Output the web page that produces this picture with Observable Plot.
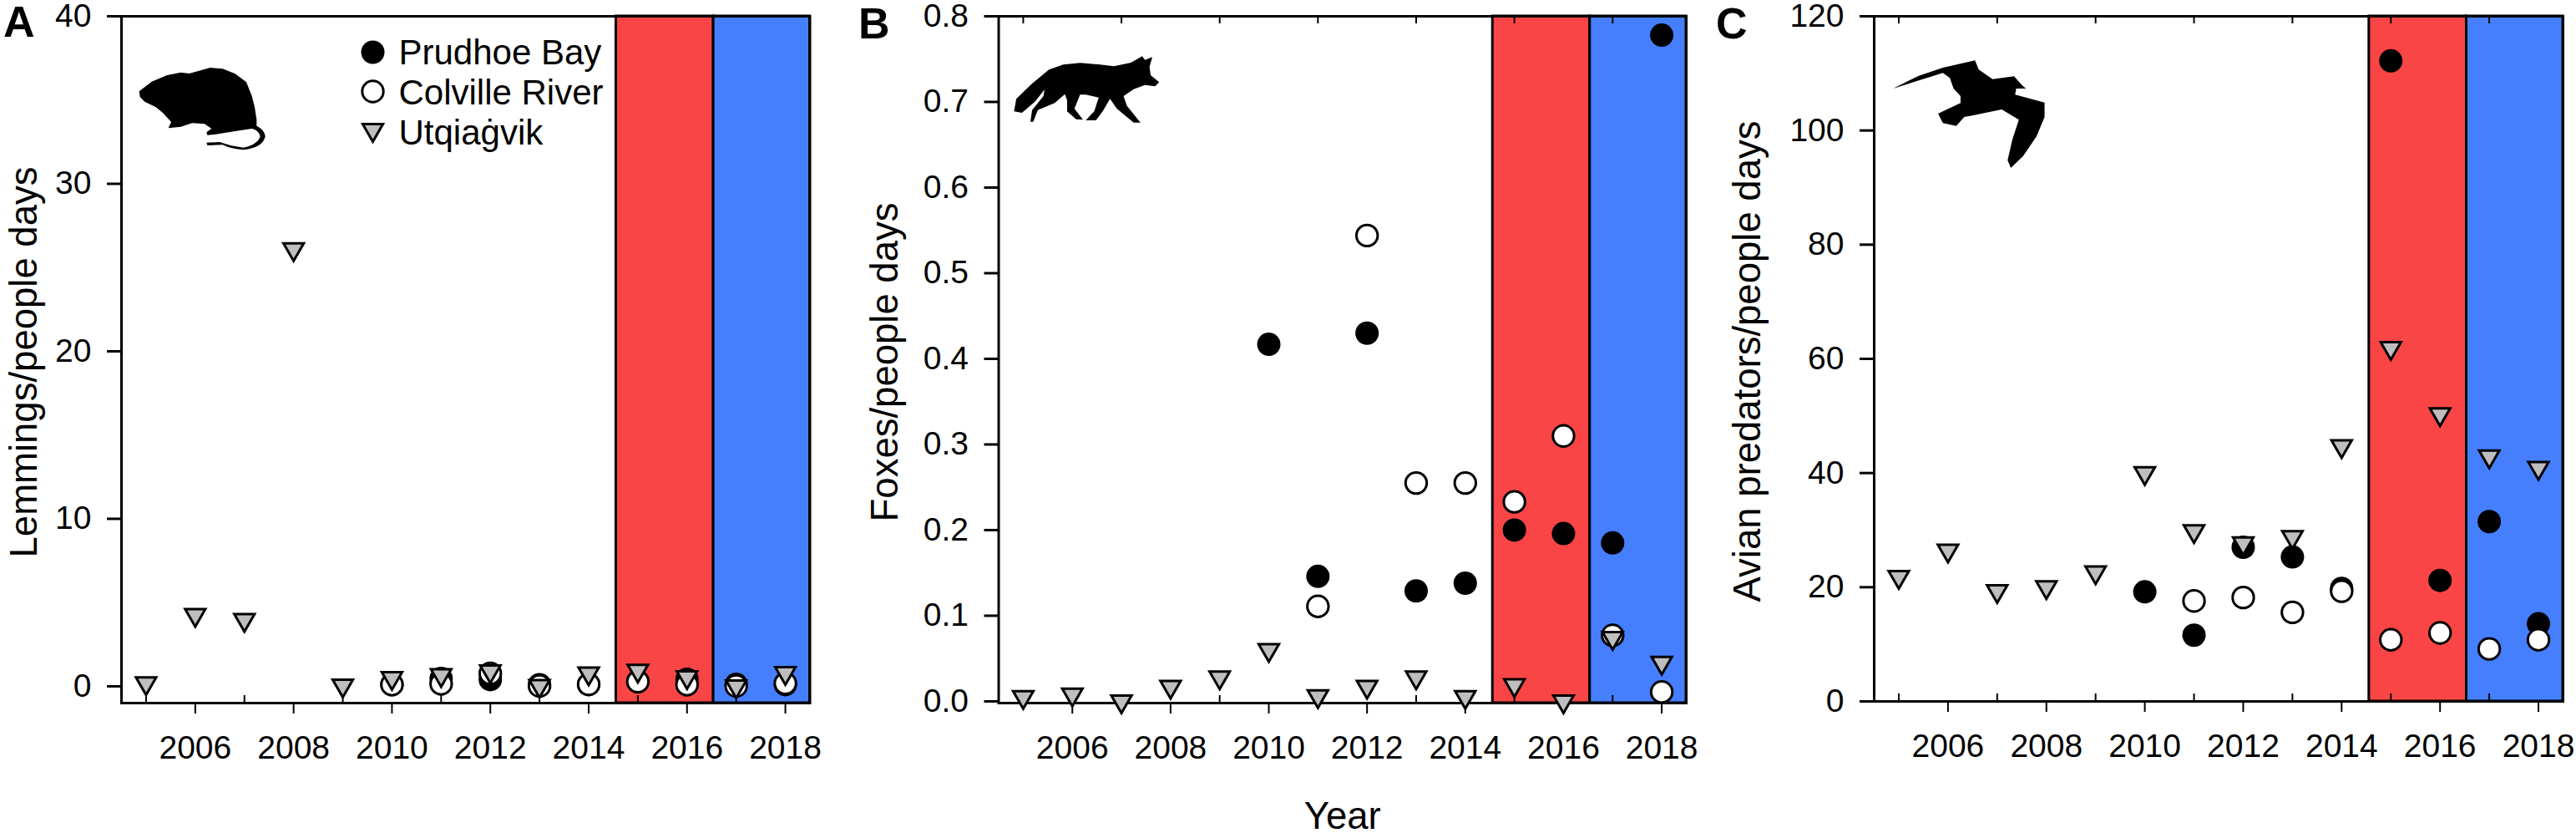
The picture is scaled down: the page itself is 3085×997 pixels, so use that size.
<!DOCTYPE html>
<html>
<head>
<meta charset="utf-8">
<script src="https://cdn.jsdelivr.net/npm/d3@7"></script>
<script src="https://cdn.jsdelivr.net/npm/@observablehq/plot@0.6"></script>
<style>
  body { margin: 0; background: #fff; }
  #page { position: relative; width: 3085px; height: 997px; overflow: hidden; font-family: "Liberation Sans", Arial, sans-serif; }
  #page > svg { position: absolute; top: 0; }
  .letter { position: absolute; font-weight: bold; font-size: 52px; line-height: 52px; }
</style>
</head>
<body>
<div id="page"></div>
<script>
const years = [2005, 2006, 2007, 2008, 2009, 2010, 2011, 2012, 2013, 2014, 2015, 2016, 2017, 2018];
const evenYears = [2006, 2008, 2010, 2012, 2014, 2016, 2018];
const oddYears = [2005, 2007, 2009, 2011, 2013, 2015, 2017];
const sites = ["Prudhoe Bay", "Colville River", "Utqiaġvik"];

// order follows years, null = no survey
const lemmingsPrudhoe = [null, null, null, null, null, 0.12, 0.47, 0.4, 0.1, 0.1, 0.3, 0.42, 0.12, 0.1];
const lemmingsColville = [null, null, null, null, null, 0.1, 0.15, 0.77, 0.02, 0.12, 0.28, 0.1, 0.02, 0.18];
const lemmingsUtqiagvik = [0.18, 4.26, 3.96, 26.1, 0.05, 0.5, 0.67, 0.9, 0.02, 0.77, 0.93, 0.55, 0, 0.8];

const foxesPrudhoe = [null, null, null, null, null, 0.417, 0.146, 0.43, 0.129, 0.138, 0.2, 0.196, 0.185, 0.778];
const foxesColville = [null, null, null, null, null, null, 0.111, 0.544, 0.255, 0.255, 0.233, 0.31, 0.077, 0.011];
const foxesUtqiagvik = [0.005, 0.008, 0, 0.017, 0.028, 0.06, 0.006, 0.017, 0.028, 0.005, 0.019, 0, 0.074, 0.045];

const avianPrudhoe = [null, null, null, null, null, 19.2, 11.6, 27, 25.3, 19.8, 112.2, 21.2, 31.5, 13.6];
const avianColville = [null, null, null, null, null, null, 17.6, 18.2, 15.6, 19.3, 10.8, 12, 9.2, 10.8];
const avianUtqiagvik = [21.8, 26.4, 19.3, 20, 22.6, 40, 29.8, 27.7, 28.8, 44.7, 61.9, 50.3, 42.9, 40.9];

// the two shaded periods
const periodStart = [2014.56, 2016.54];
const periodEnd = [2016.54, 2018.5];
const periodColor = ["#f94545", "#457ffe"];

const triangle = { symbol: "triangle", r: 9, rotate: 180, fill: "#bebebe", stroke: "#000", strokeWidth: 3 };
const blackDot = { r: 14, fill: "#000", stroke: "none" };
const whiteDot = { r: 12.7, fill: "#fff", stroke: "#000", strokeWidth: 3 };

function panel({ left, width, marginLeft, marginRight, marginBottom, yDomain, yTicks, yFormat, yLabel, labelDx, top, series, extra = [] }) {
  const frameHeight = 997 - 19 - marginBottom;
  const chart = Plot.plot({
    width, height: 997, marginLeft, marginRight, marginTop: 19, marginBottom,
    style: { fontFamily: "'Liberation Sans', Arial, sans-serif", fontSize: "38px", background: "transparent", color: "#000", overflow: "visible" },
    x: { domain: [2004.5, 2018.5] },
    y: { domain: yDomain },
    marks: [
      Plot.rect(periodColor, { x1: periodStart, x2: periodEnd, fill: d => d, stroke: "#000", strokeWidth: 3 }),
      Plot.frame({ stroke: "#000", strokeWidth: 3 }),
      Plot.axisX({ ticks: evenYears, tickFormat: "d", tickSize: 13, tickPadding: 26, strokeWidth: 2, label: null, fontSize: 39 }),
      Plot.axisY({ ticks: yTicks, tickFormat: yFormat, tickSize: 17, tickPadding: 19, strokeWidth: 3, label: null, fontSize: 39 }),
      Plot.tickX(oddYears, { x: d => d, insetTop: frameHeight - 9, stroke: "#000", strokeWidth: 2 }),
      top ? Plot.tickX(oddYears, { x: d => d, insetBottom: frameHeight - 9, stroke: "#000", strokeWidth: 2 }) : null,
      Plot.dot(years, { x: years, y: series[0], ...blackDot }),
      Plot.dot(years, { x: years, y: series[1], ...whiteDot }),
      Plot.dot(years, { x: years, y: series[2], ...triangle }),
      Plot.text([yLabel], { frameAnchor: "left", textAnchor: "middle", lineAnchor: "middle", dx: labelDx, dy: 3, rotate: -90, fontSize: 45.5, fill: "#000" }),
      ...extra
    ]
  });
  chart.style.left = left + "px";
  chart.style.position = "absolute";
  chart.style.top = "0";
  document.getElementById("page").append(chart);
}

// legend sits inside panel A
const legendMarks = [
  Plot.dot([0], { frameAnchor: "top-left", dx: 301, dy: 43, ...blackDot }),
  Plot.dot([0], { frameAnchor: "top-left", dx: 301, dy: 90, ...whiteDot }),
  Plot.dot([0], { frameAnchor: "top-left", dx: 301, dy: 136, ...triangle }),
  ...sites.map((s, i) => Plot.text([s], { frameAnchor: "top-left", dx: 332, dy: [44, 92, 140][i], textAnchor: "start", lineAnchor: "middle", fontSize: 42, fill: "#000" }))
];

panel({
  left: 0, width: 1040, marginLeft: 145, marginRight: 70.5, marginBottom: 156,
  yDomain: [-1, 40], yTicks: [0, 10, 20, 30, 40], yFormat: "d", yLabel: "Lemmings/people days",
  labelDx: -116.5, top: false,
  series: [lemmingsPrudhoe, lemmingsColville, lemmingsUtqiagvik], extra: legendMarks
});

panel({
  left: 1040, width: 1020, marginLeft: 155.5, marginRight: 41, marginBottom: 156,
  yDomain: [-0.002, 0.8], yTicks: [0, 0.1, 0.2, 0.3, 0.4, 0.5, 0.6, 0.7, 0.8], yFormat: ".1f", yLabel: "Foxes/people days",
  labelDx: -136, top: true,
  series: [foxesPrudhoe, foxesColville, foxesUtqiagvik],
  extra: [Plot.text(["Year"], { frameAnchor: "bottom", lineAnchor: "middle", dy: 136, fontSize: 45.5, fill: "#000" })]
});

panel({
  left: 2060, width: 1025, marginLeft: 184, marginRight: 16, marginBottom: 158,
  yDomain: [0, 120], yTicks: [0, 20, 40, 60, 80, 100, 120], yFormat: "d", yLabel: "Avian predators/people days",
  labelDx: -151.5, top: true,
  series: [avianPrudhoe, avianColville, avianUtqiagvik]
});

// panel letters
[["A", 4, 0], ["B", 1028, 2], ["C", 2055, 2]].forEach(([t, x, y]) => {
  const d = document.createElement("div");
  d.className = "letter";
  d.textContent = t;
  d.style.left = x + "px";
  d.style.top = y + "px";
  document.getElementById("page").append(d);
});

// animal silhouettes, traced roughly by hand
const silhouettes = [
  { left: 0, w: 520, h: 240, vw: 1560, vh: 720, d: "M500 328L545 293L600 270L650 260L680 264L755 243L800 247L845 265L885 295L905 345L915 385L922 430L922 452Q950 465 953 490Q945 530 875 538Q830 535 800 520L745 522L742 512L790 510Q830 525 875 530Q925 520 935 490Q930 468 905 462L850 470L770 483L745 485L742 475L760 462L735 445L690 442L650 455L605 460L615 438L585 405L560 385L520 365L503 348Z" },
  { left: 1040, w: 1060, h: 400, vw: 1568, vh: 1200, d: "M258 400L262 355L290 300L320 250L345 232L375 226L410 232L435 238L465 225L485 202L490 215L503 205L498 240L500 270L515 295L508 310L490 305L470 320L452 345L458 380L482 440L470 440L440 390L428 355L415 400L403 432L385 432L400 400L408 350L385 340L375 340L365 390L380 430L368 428L352 400L352 360L348 338L330 370L300 395L292 437L287 437L290 395L310 345L312 322L295 365L272 405Z" },
  { left: 2080, w: 1005, h: 400, vw: 1568, vh: 1200, d: "M292 318L340 272L385 243L445 217L452 250L478 284L518 274L530 300L540 318L522 318L520 340L575 368L575 420L560 490L535 560L512 603L506 575L515 500L527 430L495 393L440 415L425 420L410 452L385 442L376 408L418 370L418 345L405 318L398 280L385 262Z" }
];
silhouettes.forEach(s => {
  d3.select("#page").append("svg")
    .attr("width", s.w).attr("height", s.h)
    .attr("viewBox", `0 0 ${s.vw} ${s.vh}`).attr("preserveAspectRatio", "none")
    .style("left", s.left + "px")
    .append("path").attr("d", s.d).attr("fill", "#000");
});
</script>
</body>
</html>
